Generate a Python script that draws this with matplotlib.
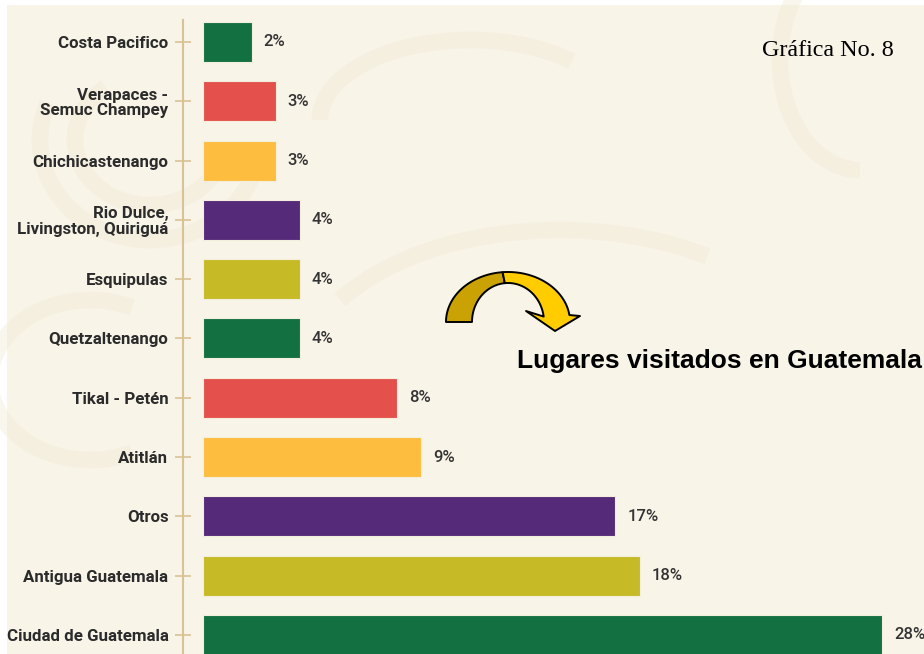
import matplotlib
matplotlib.use("Agg")
import matplotlib.pyplot as plt
import numpy as np
from matplotlib.patches import Polygon, Rectangle, Arc

# datos de la grafica
lugares = ['Costa Pacifico', 'Verapaces -\nSemuc Champey', 'Chichicastenango',
           'Rio Dulce,\nLivingston, Quiriguá', 'Esquipulas', 'Quetzaltenango',
           'Tikal - Petén', 'Atitlán', 'Otros', 'Antigua Guatemala',
           'Ciudad de Guatemala']
porcentajes = [2, 3, 3, 4, 4, 4, 8, 9, 17, 18, 28]
colores = ['#137040', '#E4514D', '#FDBD3F', '#552A78', '#C6BA26',
           '#137040', '#E4514D', '#FDBD3F', '#552A78', '#C6BA26', '#137040']

W, H = 924, 654
fig = plt.figure(figsize=(W/100, H/100), dpi=100, facecolor='white')

# fondo crema con algunas vetas claras
bg = fig.add_axes([0, 0, 1, 1], zorder=-1)
bg.set_xlim(0, W)
bg.set_ylim(H, 0)
bg.axis('off')
bg.add_patch(Rectangle((7, 5), W, H, color='#F8F4E8', lw=0))
vetas = [((150, 140), 220, 200, 20, 200), ((150, 140), 150, 130, 10, 230),
         ((470, 120), 300, 160, 180, 330), ((560, 380), 520, 300, 200, 320),
         ((860, 60), 160, 220, 90, 260), ((90, 380), 200, 160, 60, 300)]
for c, w, h, t1, t2 in vetas:
    bg.add_patch(Arc(c, w, h, theta1=t1, theta2=t2, color='#F0E7D0',
                     lw=12, alpha=0.35))

# grafica de barras
ax = fig.add_axes([183/W, 0, 1 - 183/W, (H - 20)/H], zorder=1)
ax.set_facecolor('none')
esc = 24.25  # pixeles por punto porcentual
paso = 59.3
y = np.arange(len(lugares))
ax.barh(y, porcentajes, height=40/paso, color=colores,
        edgecolor='#F4EEDC', linewidth=0.8)
ax.set_xlim(-20/esc, (W - 203)/esc)
ax.set_ylim((H - 42)/paso, (20 - 42)/paso)

fnt = ['Roboto', 'DejaVu Sans']
ax.set_yticks(y)
ax.set_yticklabels(lugares, fontfamily=fnt, fontweight='bold', fontsize=12.2,
                   color='#2B2B2B', linespacing=1.05)
ax.set_xticks([])
ax.tick_params(axis='y', direction='inout', length=11, width=1.2,
               color='#D8C296', pad=5)
for s in ['top', 'right', 'bottom']:
    ax.spines[s].set_visible(False)
ax.spines['left'].set_color('#D8C296')
ax.spines['left'].set_linewidth(1.5)

for yi, v in zip(y, porcentajes):
    ax.text(v + 12/esc, yi, f'{v}%', va='center', ha='left', fontsize=12,
            fontfamily=fnt, fontweight='medium', color='#333333')

# capa superior: titulo, texto y flecha curva
top = fig.add_axes([0, 0, 1, 1], zorder=3)
top.set_xlim(0, W)
top.set_ylim(H, 0)
top.axis('off')

top.text(762, 51, 'Gráfica No. 8', fontsize=17.4, family='Liberation Serif',
         ha='left', va='center', color='black')
top.text(517, 361, 'Lugares visitados en Guatemala', fontsize=19,
         family='Liberation Sans', fontweight='bold', ha='left', va='center',
         color='black')

cx, cy = 508, 322
ao, bo = 62, 50
ai, bi = 36, 39

def banda(t1, t2):
    t = np.radians(np.linspace(t1, t2, 60))
    ext = np.c_[cx + ao*np.cos(t), cy - bo*np.sin(t)]
    tr = t[::-1]
    inn = np.c_[cx + ai*np.cos(tr), cy - bi*np.sin(tr)]
    return ext, inn

ext, inn = banda(180, 95)
top.add_patch(Polygon(np.vstack([ext, inn]), closed=True, fc='#CBA203',
                      ec='black', lw=1.4, joinstyle='round'))
ext, inn = banda(95, 8)
punta = np.array([[580, 316], [555, 331], [526, 311]])
top.add_patch(Polygon(np.vstack([ext, punta, inn]), closed=True, fc='#FFCC00',
                      ec='black', lw=1.4, joinstyle='round'))

fig.savefig('out.png', dpi=100, facecolor='white')
